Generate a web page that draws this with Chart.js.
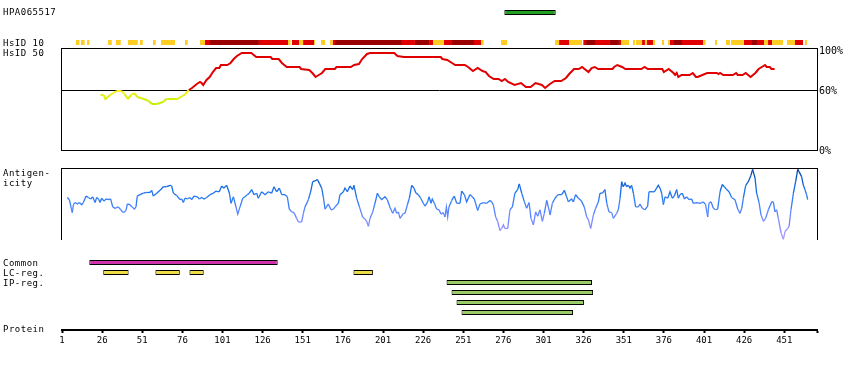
<!DOCTYPE html>
<html><head><meta charset="utf-8">
<script src="https://cdn.jsdelivr.net/npm/chart.js@4.4.1/dist/chart.umd.min.js"></script>
<style>
html,body{margin:0;padding:0;background:#fff;}
#wrap{position:relative;width:850px;height:370px;overflow:hidden;background:#fff;}
canvas{position:absolute;left:0;}
.lbl{position:absolute;left:3px;font-family:"DejaVu Sans Mono",monospace;font-size:9px;letter-spacing:0.5px;line-height:10px;white-space:pre;color:#000;}
</style></head><body>
<div id="wrap">
<canvas id="cHpa" width="850" height="25" style="top:0px"></canvas>
<canvas id="cId10" width="850" height="25" style="top:30px"></canvas>
<canvas id="cId50" width="850" height="122" style="top:38px"></canvas>
<canvas id="cAnt" width="850" height="72" style="top:168px"></canvas>
<canvas id="cTracks" width="850" height="70" style="top:250px"></canvas>
<canvas id="cAxis" width="850" height="40" style="top:320px"></canvas>
<div class="lbl" style="top:7px">HPA065517</div>
<div class="lbl" style="top:38px">HsID 10</div>
<div class="lbl" style="top:48px">HsID 50</div>
<div class="lbl" style="top:168px">Antigen-
icity</div>
<div class="lbl" style="top:258px">Common
LC-reg.
IP-reg.</div>
<div class="lbl" style="top:324px">Protein</div>
</div>
<script>
// ---------- DATA ----------
const proteinTicks = [1, 26, 51, 76, 101, 126, 151, 176, 201, 226, 251, 276, 301, 326, 351, 376, 401, 426, 451];
const percentTicks = [0, 60, 100];

const hpaRegion = [[276.6, 308.6]];
const commonRegions = [[18, 135.4]];
const lcRegions = [[26.7, 42.5], [59.2, 74.4], [80.4, 89.3], [182.6, 194.7]];
const ipRegions = [[240.6, 331.2], [243.7, 331.9], [246.8, 326.2], [249.9, 319.4]];

// HsID 10 identity blocks (residue start, end)
const hsid10Low = [[9.7,11.8],[12.8,15.1],[16.6,18],[29.7,32],[34.6,37.6],[42.1,48.2],[49.6,51.3],[57.7,59.4],[62.7,71.4],[77.6,79.3],[87,90.1],[141.8,143.4],[148.7,151.2],[158,158.6],[162.4,164.9],[168,169.7],[232.2,239],[262.1,263.7],[274.5,278.3],[308.2,310.7],[316.9,325],[349.3,354.3],[356.8,358],[358.6,362.4],[364.2,365.5],[369.2,370.5],[374.8,376.1],[378.6,379.8],[400.4,402],[407.9,409.1],[414.7,417.2],[417.8,425.9],[438.4,440.9],[443.4,450.2],[452.7,457.7],[463.9,465.2]];
const hsid10Mid = [[90.1,93.2],[123.7,141.8],[144.3,148.7],[151.2,158],[169.7,171.1],[212.8,220.9],[229.7,232.2],[239,244],[257.7,262.1],[310.7,316.9],[325.8,327.5],[333.1,342.4],[348,349.3],[362.4,364.2],[365.5,369.2],[379.8,382.3],[387.3,400.4],[425.9,430.9],[434,438.4],[440.9,443.4],[457.7,462.7]];
const hsid10High = [[93.2,123.7],[171.1,212.8],[220.9,229.7],[244,257.7],[327.5,333.1],[342.4,348],[382.3,387.3],[430.9,434]];

// HsID 50 conservation (%), [residue, value]
const hsid50 = [[25,55],[27,55],[28,51],[31,55],[33,57],[35,59],[38,59],[40,56],[42,51],[44,55],[46,57],[48,53],[52,51],[55,49],[57,46],[60,46],[62,47],[64,48],[66,51],[73,51],[76,54],[78,56],[80,60],[82,62],[85,66],[87,68],[88,67],[89,65],[91,70],[93,73],[95,78],[97,82],[99,82],[100,85],[104,85],[106,87],[108,91],[110,94],[113,97],[119,97],[122,93],[131,93],[132,91],[136,91],[138,87],[141,83],[149,83],[150,81],[155,80],[157,77],[159,73],[161,75],[163,77],[165,81],[171,81],[172,83],[181,83],[183,85],[186,86],[188,91],[191,96],[193,97],[208,97],[210,94],[214,93],[237,93],[238,91],[241,90],[244,87],[246,85],[252,85],[254,83],[257,79],[260,82],[263,79],[265,78],[267,74],[270,71],[273,71],[275,69],[277,71],[279,68],[283,65],[287,67],[290,63],[293,63],[296,67],[298,66],[300,65],[302,62],[305,66],[308,69],[312,69],[315,72],[317,76],[320,81],[323,81],[325,83],[329,78],[331,82],[333,83],[335,81],[344,81],[345,83],[347,85],[350,83],[352,81],[362,81],[364,83],[366,81],[375,81],[376,78],[379,81],[382,77],[383,75],[384,77],[385,73],[387,75],[392,75],[394,77],[396,73],[397,73],[400,75],[403,77],[409,77],[410,76],[411,77],[413,75],[419,75],[421,77],[422,75],[425,75],[427,77],[430,73],[433,77],[435,81],[437,83],[439,85],[440,83],[442,83],[443,81],[445,81]];

// Antigenicity score (0-100), [residue, value]
const antigenicity = [[4.3,59],[5.6,56],[6.6,46],[7.4,38],[8.1,49],[9.1,52],[10.6,50],[11.8,52],[13.3,49],[14.3,52],[16.0,61],[17.4,59],[18.9,57],[20.1,60],[21.6,52],[22.6,59],[23.8,57],[24.7,52],[25.7,58],[27.2,54],[28.4,57],[29.9,56],[31.3,57],[32.6,46],[34.0,44],[36.1,46],[37.6,42],[39.2,38],[40.9,41],[41.7,50],[43.4,49],[44.6,46],[46.1,43],[47.1,46],[47.9,61],[49.6,63],[51.7,65],[53.8,66],[55.8,66],[56.9,69],[57.9,61],[60.0,65],[62.1,69],[64.1,74],[66.2,74],[68.3,76],[69.3,75],[70.4,65],[72.4,62],[74.5,56],[75.6,57],[76.6,52],[77.6,58],[79.1,57],[80.8,59],[81.8,56],[83.2,61],[85.3,60],[86.6,57],[88.0,59],[89.5,57],[91.1,59],[93.2,63],[95.3,65],[97.0,68],[99.0,67],[100.5,75],[101.9,72],[103.6,76],[105.3,65],[106.3,51],[107.8,60],[109.4,46],[110.5,36],[111.9,46],[113.6,58],[115.0,60],[116.5,63],[117.7,65],[119.2,70],[120.6,63],[122.3,65],[123.3,58],[125.4,67],[127.5,63],[129.6,67],[131.6,65],[133.1,74],[134.7,67],[136.4,72],[137.9,63],[139.9,63],[141.4,60],[142.6,43],[144.1,39],[145.5,38],[147.2,30],[148.3,25],[150.3,25],[151.4,37],[152.4,46],[154.5,56],[155.9,67],[157.2,81],[158.6,82],[160.1,84],[161.3,79],[162.8,72],[163.8,60],[164.9,43],[166.9,50],[168.6,42],[170.1,43],[171.1,46],[173.2,51],[174.2,63],[176.3,67],[177.3,72],[178.8,67],[180.4,75],[182.1,70],[182.9,76],[184.6,58],[186.3,46],[188.3,32],[189.8,29],[190.8,26],[191.9,19],[192.9,30],[194.6,39],[196.0,51],[197.5,65],[198.7,60],[200.2,56],[202.2,60],[203.7,56],[205.4,45],[207.0,37],[208.5,44],[209.5,37],[210.6,39],[211.6,30],[213.7,37],[214.7,37],[216.2,49],[217.4,58],[218.9,76],[220.3,72],[221.6,65],[223.0,63],[224.5,58],[226.1,51],[227.2,47],
[228.8,53],[229.7,60],[230.9,51],[231.7,57],[233.0,51],[234.4,43],[235.9,42],[237.1,36],[238.6,38],[239.6,32],[240.5,46],[241.3,32],[242.1,46],[243.8,55],[245.4,61],[246.9,51],[249.0,51],[250.0,68],[251.7,63],[253.1,53],[255.2,63],[256.2,61],[257.9,57],[260.0,41],[261.4,50],[263.5,52],[265.6,51],[267.7,55],[268.7,53],[269.7,49],[271.2,32],[272.4,26],[273.9,13],[274.9,16],[276.0,21],[277.0,16],[278.7,16],[280.1,42],[281.6,46],[283.2,65],[284.9,70],[285.9,78],[287.4,65],[289.1,53],[290.5,44],[292.0,52],[293.2,30],[294.7,21],[296.1,39],[297.4,33],[298.8,42],[300.3,26],[301.5,37],[303.0,55],[304.0,46],[305.1,35],[306.5,51],[308.2,58],[309.2,61],[310.2,63],[312.3,63],[314.0,69],[315.4,60],[316.5,53],[318.5,57],[319.6,53],[321.0,63],[322.7,58],[324.4,55],[326.4,46],[327.9,32],[329.0,28],[330.4,16],[332.1,35],[333.5,44],[335.2,53],[336.2,65],[337.7,65],[339.3,70],[340.4,51],[341.8,39],[343.5,38],[344.5,30],[346.6,37],[347.6,42],[348.7,58],[349.7,81],[350.7,74],[351.8,79],[352.8,74],[353.9,76],[354.9,72],[355.9,76],[357.0,65],[358.4,46],[360.1,46],[361.1,50],[362.6,44],[364.2,42],[365.9,47],[366.7,67],[368.0,67],[370.1,67],[371.5,72],[372.5,76],[373.6,72],[374.6,65],[375.7,49],[376.7,60],[378.4,58],[379.8,67],[381.3,58],[382.5,61],[384.0,70],[385.0,58],[386.0,63],[387.5,65],[388.8,57],[390.2,60],[391.7,56],[393.3,57],[394.3,51],[396.4,52],[398.5,51],[399.5,52],[400.6,53],[402.0,49],[403.3,32],[404.1,51],[405.4,53],[406.8,44],[408.3,42],[409.5,43],[411.0,67],[412.4,77],[413.7,74],[415.1,70],[416.6,67],[418.2,59],[420.3,56],[422.0,43],[423.4,37],[424.5,44],[425.5,58],[427.0,76],[428.6,81],[430.3,90],[431.3,98],[432.8,86],[433.8,65],[435.3,52],[436.5,35],[438.0,26],[439.4,30],[441.1,42],[443.2,53],[444.2,53],[445.2,39],[446.3,42],[447.3,30],[449.0,10],[450.4,1],[451.5,12],[453.1,16],[454.0,19],[455.2,42],[456.7,65],[458.1,81],[459.4,98],[460.2,95],[461.8,88],[462.9,76],[463.9,70],[464.9,63],[465.6,56]];

// ---------- STYLE HELPERS ----------
const X_MIN = 1, X_MAX = 471.4;
const FONT = '"DejaVu Sans Mono", monospace';
const base = {responsive:false, animation:false, events:[], plugins:{legend:{display:false}, tooltip:{enabled:false}}};
const pad = (t,b,r) => ({left:62, right:(r===undefined?33:r), top:t||0, bottom:b||0});
const xHidden = () => ({type:'linear', min:X_MIN, max:X_MAX, display:false, offset:false});
const rowScale = (min, max, rev) => ({type:'linear', min, max, reverse:!!rev, display:false, offset:false, grid:{offset:false}});
const framePlugin = {id:'frame', afterDraw(chart){
  const a = chart.chartArea, c = chart.ctx;
  c.save(); c.strokeStyle = '#000'; c.lineWidth = 1;
  c.strokeRect(a.left - 0.5, a.top + 0.5, a.right - a.left + 1, a.bottom - a.top);
  c.restore();
}};
function lerp(a,b,t){return Math.round(a+(b-a)*t);}
function hsidColor(v){
  if (v >= 60) return '#E00000';
  const t = Math.max(0, Math.min(1, (v - 45) / 14));
  return 'rgb(' + lerp(192,245,t) + ',' + lerp(238,240,t) + ',' + lerp(0,30,t) + ')';
}
const antStops = [[0,[170,160,255]],[20,[140,140,255]],[40,[88,134,255]],[55,[48,124,246]],[70,[24,110,232]],[85,[10,90,200]],[100,[0,62,140]]];
function antColor(v){
  for (let i=1;i<antStops.length;i++){
    if (v <= antStops[i][0]) {
      const [v0,c0] = antStops[i-1], [v1,c1] = antStops[i];
      const t = (v - v0) / (v1 - v0);
      return 'rgb(' + lerp(c0[0],c1[0],t) + ',' + lerp(c0[1],c1[1],t) + ',' + lerp(c0[2],c1[2],t) + ')';
    }
  }
  return 'rgb(0,62,140)';
}
const segBar = (segs, row) => segs.map(s => ({x:s, y:row}));
const barDs = (data, color, border) => ({data, backgroundColor:color, borderColor:'#000', borderWidth:border?1:0,
  borderSkipped:false, barThickness:5, grouped:false, inflateAmount:0});
function barChart(id, datasets, padding, yScale){
  return new Chart(document.getElementById(id), {type:'bar', data:{datasets},
    options:Object.assign({}, base, {indexAxis:'y', layout:{padding}, scales:{x:xHidden(), y:yScale}})});
}

// ---------- HPA antigen bar ----------
barChart('cHpa', [barDs(segBar(hpaRegion,0), '#22A022', true)], pad(), rowScale(-1, 1));

// ---------- HsID 10 track ----------
barChart('cId10', [barDs(segBar(hsid10Low,0), '#FFCC22', false),
                   barDs(segBar(hsid10Mid,0), '#E00000', false),
                   barDs(segBar(hsid10High,0), '#990000', false)], pad(), rowScale(-1, 1));

// ---------- HsID 50 panel ----------
new Chart(document.getElementById('cId50'), {type:'line',
  data:{datasets:[{data:hsid50.map(p=>({x:p[0], y:p[1]})), borderColor:'#E00000', borderWidth:2, pointRadius:0, tension:0,
    segment:{borderColor: ctx => hsidColor((ctx.p0.parsed.y + ctx.p1.parsed.y) / 2)}}]},
  options:Object.assign({}, base, {layout:{padding:pad(10,10,0)},
    scales:{x:xHidden(),
      y:{type:'linear', min:0, max:102, position:'right',
         afterFit: s => { s.width = 33; },
         afterBuildTicks: s => { s.ticks = percentTicks.map(v => ({value:v})); },
         ticks:{callback: v => v + '%', color:'#000', padding:2, labelOffset:1, font:{family:FONT, size:10}},
         grid:{drawTicks:false, lineWidth:1, color: c => (c.tick && c.tick.value === 60) ? '#000' : 'rgba(0,0,0,0)'},
         border:{display:false}}}}),
  plugins:[framePlugin]});

// ---------- Antigenicity panel ----------
new Chart(document.getElementById('cAnt'), {type:'line',
  data:{datasets:[{data:antigenicity.map(p=>({x:p[0], y:p[1]})), borderColor:'#1E6EE6', borderWidth:1.3, pointRadius:0, tension:0,
    segment:{borderColor: ctx => antColor((ctx.p0.parsed.y + ctx.p1.parsed.y) / 2)}}]},
  options:Object.assign({}, base, {layout:{padding:pad()},
    scales:{x:xHidden(), y:{type:'linear', min:0, max:100, display:false}}}),
  plugins:[framePlugin]});

// ---------- Common / LC-reg / IP-reg tracks ----------
barChart('cTracks', [barDs(segBar(commonRegions,0), '#CC33AA', true),
                     barDs(segBar(lcRegions,1), '#EEDD44', true),
                     barDs(ipRegions.map((s,i)=>({x:s, y:2+i})), '#99CC66', true)],
         pad(7.5, 2.5), rowScale(-0.5, 5.5, true));

// ---------- Protein ruler ----------
new Chart(document.getElementById('cAxis'), {type:'line',
  data:{datasets:[]},
  options:Object.assign({}, base, {layout:{padding:pad()},
    scales:{
      x:{type:'linear', min:X_MIN, max:X_MAX, position:'bottom',
         afterFit: s => { s.height = 30; },
         afterBuildTicks: s => { s.ticks = proteinTicks.map(v => ({value:v})).concat([{value:X_MAX}]); },
         ticks:{autoSkip:false, maxRotation:0, minRotation:0, padding:2, color:'#000', font:{family:FONT, size:9},
                callback: v => proteinTicks.includes(v) ? String(v) : ''},
         grid:{display:true, drawOnChartArea:false, drawTicks:true, tickLength:3, tickWidth:2, tickColor:'#000'},
         border:{display:true, width:2, color:'#000'}},
      y:{display:false, min:0, max:1}}})});
</script>
</body></html>
